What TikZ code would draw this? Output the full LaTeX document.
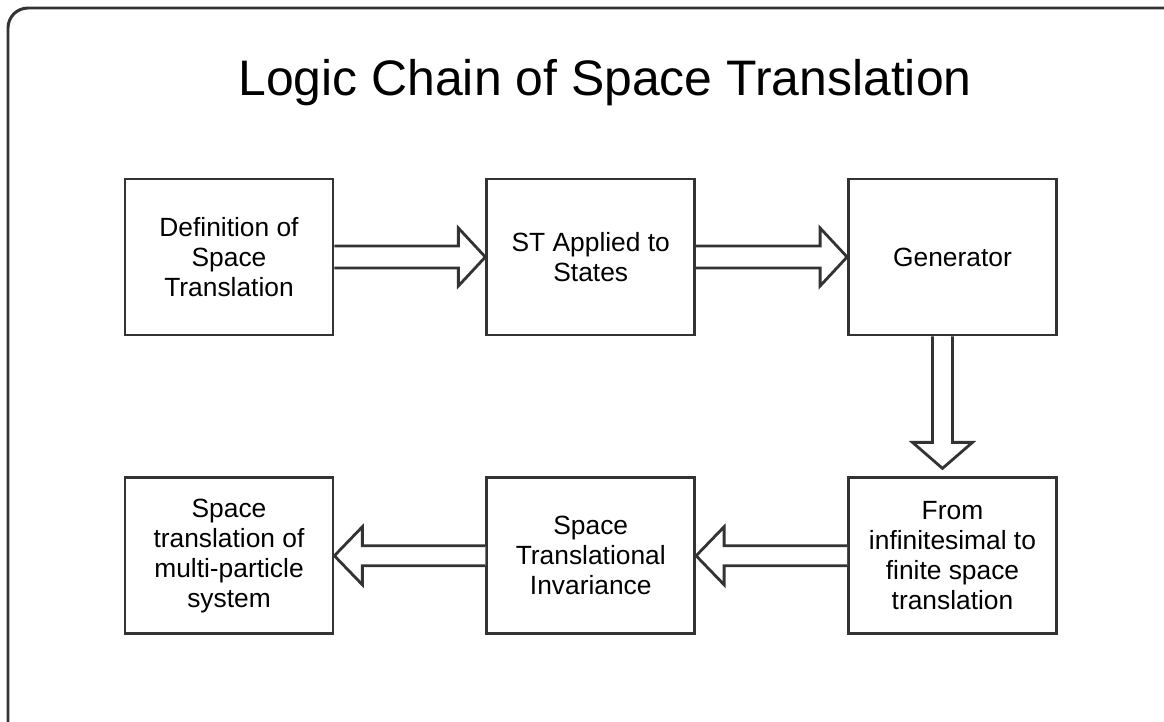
\documentclass[tikz,border=0pt]{standalone}
\usepackage{fontspec}
\setmainfont{Liberation Sans}
\usepackage{tikz}
\usetikzlibrary{positioning,calc}

\definecolor{linegray}{HTML}{333333}

\tikzstyle{block}=[
   rectangle,
   draw=linegray,
   line width=1.6pt,
   fill=white,
   align=center,
   minimum width=4.16cm,
   minimum height=3.12cm,
   font=\fontsize{15}{17}\selectfont
]
\tikzstyle{flow}=[draw=linegray,line width=1.6pt,fill=white,line join=miter]

% fat open arrows, shaft half width 11, head half width 29, head length 27
\newcommand{\rightflow}[2]{%
  \draw[flow] ($(#1)+(0,-11)$) -- ($(#2)+(-27,-11)$) -- ($(#2)+(-27,-29)$) -- (#2)
    -- ($(#2)+(-27,29)$) -- ($(#2)+(-27,11)$) -- ($(#1)+(0,11)$);}
\newcommand{\leftflow}[2]{%
  \draw[flow] ($(#1)+(0,-10)$) -- ($(#2)+(28,-10)$) -- ($(#2)+(28,-29)$) -- (#2)
    -- ($(#2)+(28,29)$) -- ($(#2)+(28,10)$) -- ($(#1)+(0,10)$);}
\newcommand{\downflow}[2]{%
  \draw[flow] ($(#1)+(-10,0)$) -- ($(#2)+(-10,-26)$) -- ($(#2)+(-30,-26)$) -- (#2)
    -- ($(#2)+(30,-26)$) -- ($(#2)+(10,-26)$) -- ($(#1)+(10,0)$);}

\begin{document}
\begin{tikzpicture}[x=0.02cm,y=-0.02cm,node distance=3.02cm]

  \useasboundingbox (0,0) rectangle (1164,721);
  \clip (0,0) rectangle (1164,721);

  % frame, runs off the right and bottom
  \draw[linegray,line width=1.7pt,rounded corners=0.4cm] (8,8) rectangle (1190,750);

  \node[anchor=base,font=\fontsize{28.4}{32}\selectfont] (title) at (605,95) {Logic Chain of Space Translation};

  \node[block]   (def) at (229,257)    {Definition of\\Space\\Translation};
  \node[block]   (sts) [right=of def]  {ST Applied to\\States};
  \node[block]   (gen) [right=of sts]  {Generator};

  \node[block]   (fin) [below=2.80cm of gen]  {From\\infinitesimal to\\finite space\\translation};
  \node[block]   (inv) [left=of fin]          {Space\\Translational\\Invariance};
  \node[block]   (mps) [left=of inv]          {Space\\translation of\\multi-particle\\system};

  \rightflow{def.east}{sts.west}
  \rightflow{sts.east}{gen.west}
  \downflow{$(gen.south)+(-10,0)$}{$(fin.north)+(-10,-8)$}
  \leftflow{fin.west}{inv.east}
  \leftflow{inv.west}{mps.east}

\end{tikzpicture}
\end{document}
